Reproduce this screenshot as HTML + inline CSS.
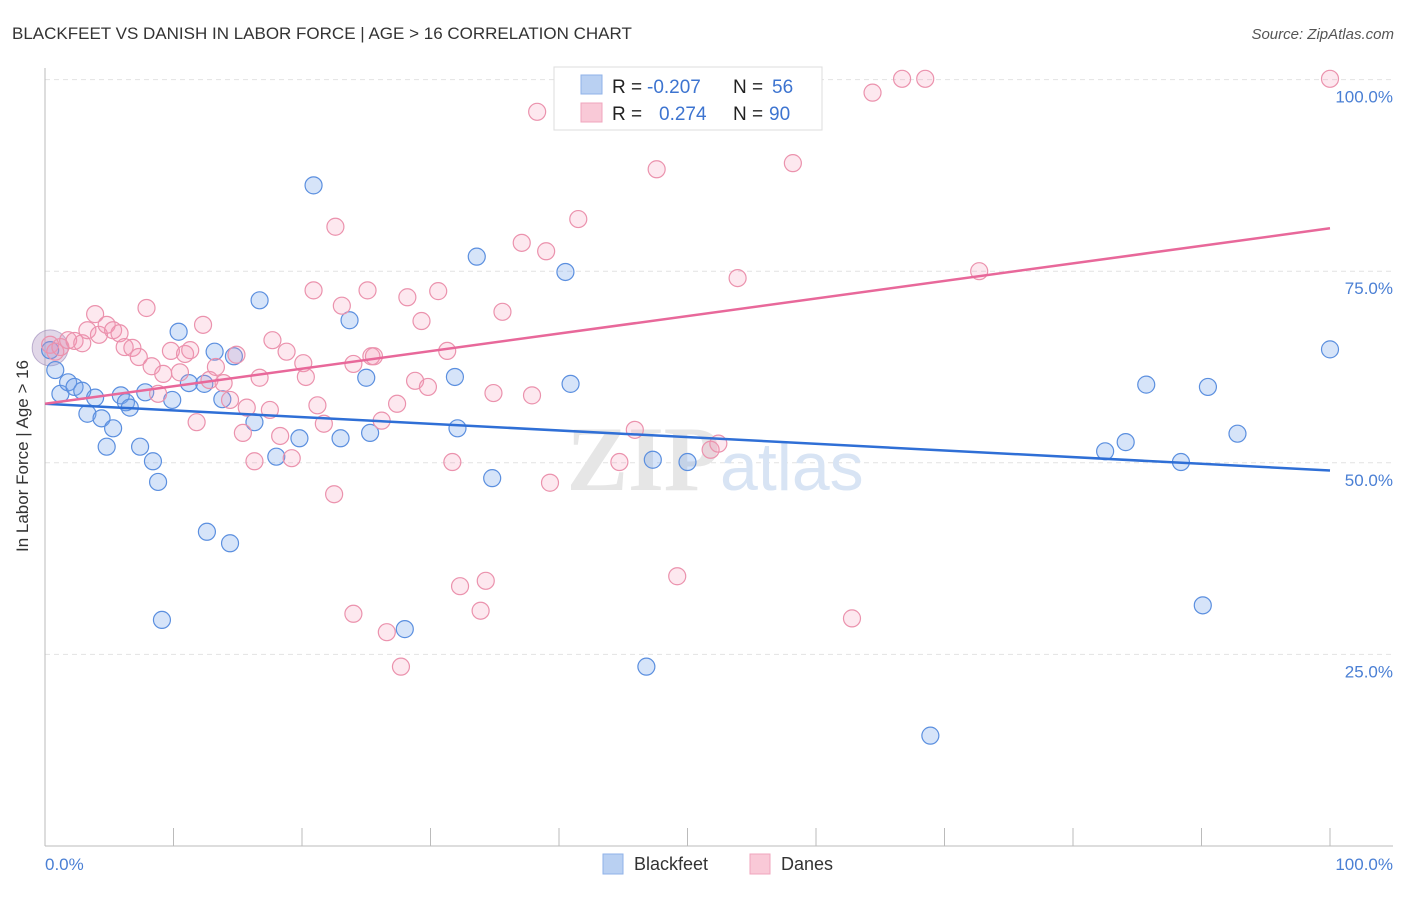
<!DOCTYPE html>
<html><head><meta charset="utf-8"><style>
body{margin:0;background:#fff;font-family:"Liberation Sans",sans-serif}
</style></head><body>
<svg width="1406" height="892" xmlns="http://www.w3.org/2000/svg" font-family="Liberation Sans, sans-serif">
<text x="12" y="39" font-size="17" fill="#333">BLACKFEET VS DANISH IN LABOR FORCE | AGE &gt; 16 CORRELATION CHART</text>
<text x="1394" y="39" font-size="15" fill="#555" text-anchor="end" font-style="italic">Source: ZipAtlas.com</text>
<g id="grid"></g>
<text x="720" y="490" font-size="92" fill="#e6e6e6" text-anchor="end" font-family="Liberation Serif, serif" font-weight="bold">ZIP</text>
<text x="720" y="490" font-size="68" fill="#d8e4f4">atlas</text>
<g id="pts"></g>
<g id="lines"></g>
<text x="28" y="456" font-size="17" fill="#333" text-anchor="middle" transform="rotate(-90 28 456)">In Labor Force | Age &gt; 16</text>
<text x="45" y="870" font-size="17" fill="#4a7fd4">0.0%</text>
<text x="1393" y="870" font-size="17" fill="#4a7fd4" text-anchor="end">100.0%</text>
<g>
<rect x="554" y="67" width="268" height="63" fill="#fff" stroke="#ddd"/>
<rect x="581" y="75" width="21" height="19" fill="#b9d0f2" stroke="#8fb2e8"/>
<rect x="581" y="103" width="21" height="19" fill="#f9c9d7" stroke="#f0a5bd"/>
<text x="612" y="93" font-size="19" fill="#222">R =</text>
<text x="647" y="93" font-size="19" fill="#3d74d0">-0.207</text>
<text x="733" y="93" font-size="19" fill="#222">N =</text>
<text x="772" y="93" font-size="19" fill="#3d74d0">56</text>
<text x="612" y="120" font-size="19" fill="#222">R =</text>
<text x="659" y="120" font-size="19" fill="#3d74d0">0.274</text>
<text x="733" y="120" font-size="19" fill="#222">N =</text>
<text x="769" y="120" font-size="19" fill="#3d74d0">90</text>
</g>
<g>
<rect x="603" y="854" width="20" height="20" fill="#b9d0f2" stroke="#8fb2e8"/>
<text x="634" y="870" font-size="18" fill="#333">Blackfeet</text>
<rect x="750" y="854" width="20" height="20" fill="#f9c9d7" stroke="#f0a5bd"/>
<text x="781" y="870" font-size="18" fill="#333">Danes</text>
</g>
</svg>
<script>
const blueX=[0.4,0.8,1.2,1.8,2.3,2.9,3.3,3.9,4.4,4.8,5.3,5.9,6.3,6.6,7.4,7.8,8.4,8.8,9.1,9.9,10.4,11.2,12.4,12.6,13.2,13.8,14.4,14.7,16.3,16.7,18.0,19.8,20.9,23.0,23.7,25.0,25.3,28.0,31.9,32.1,33.6,34.8,40.5,40.9,46.8,47.3,50.0,68.9,82.5,84.1,85.7,88.4,90.1,90.5,92.8,100];
const blueY=[64.7,62.1,59.0,60.5,59.9,59.4,56.4,58.5,55.8,52.1,54.5,58.8,57.9,57.2,52.1,59.2,50.2,47.5,29.5,58.2,67.1,60.4,60.3,41.0,64.5,58.3,39.5,63.9,55.3,71.2,50.8,53.2,86.2,53.2,68.6,61.1,53.9,28.3,61.2,54.5,76.9,48.0,74.9,60.3,23.4,50.4,50.1,14.4,51.5,52.7,60.2,50.1,31.4,59.9,53.8,64.8];
const pinkX=[0.4,0.8,1.2,1.8,2.3,2.9,3.3,3.9,4.2,4.8,5.3,5.8,6.2,6.8,7.3,7.9,8.3,8.8,9.2,9.8,10.5,10.9,11.3,11.8,12.3,12.8,13.3,13.9,14.4,14.9,15.4,15.7,16.3,16.7,17.5,17.7,18.3,18.8,19.2,20.1,20.3,20.9,21.2,21.7,22.5,22.6,23.1,24.0,24.0,25.1,25.4,25.6,26.2,26.6,27.4,27.7,28.2,28.8,29.3,29.8,30.6,31.3,31.7,32.3,33.9,34.3,34.9,35.6,37.1,37.9,38.3,39.0,39.3,41.5,44.7,45.9,47.6,49.2,51.8,52.4,53.9,58.2,62.8,64.4,66.7,68.5,72.7,100];
const pinkY=[65.4,64.5,65.1,66.0,65.9,65.6,67.3,69.4,66.7,68.0,67.3,66.9,65.1,65.0,63.8,70.2,62.6,59.0,61.6,64.6,61.8,64.2,64.7,55.3,68.0,60.8,62.5,60.4,58.2,64.1,53.9,57.2,50.2,61.1,56.9,66.0,53.5,64.5,50.6,63.0,61.2,72.5,57.5,55.1,45.9,80.8,70.5,62.9,30.3,72.5,63.9,63.9,55.5,27.9,57.7,23.4,71.6,60.7,68.5,59.9,72.4,64.6,50.1,33.9,30.7,34.6,59.1,69.7,78.7,58.8,95.8,77.6,47.4,81.8,50.1,54.3,88.3,35.2,51.7,52.5,74.1,89.1,29.7,98.3,100.1,100.1,75.0,100.1];
const blueLine=[57.7,49.0];
const pinkLine=[57.7,80.6];
const yTicks=[25,50,75,100];
const yTickLabels=["25.0%","50.0%","75.0%","100.0%"];
const xTicks=[0,10,20,30,40,50,60,70,80,90,100];
const NS="http://www.w3.org/2000/svg";
const X0=45,X1=1330,Y0=846,YS=7.664;
const sx=v=>X0+v*(X1-X0)/100, sy=v=>Y0-v*YS;
function mk(t,a,p){const e=document.createElementNS(NS,t);for(const k in a)e.setAttribute(k,a[k]);p.appendChild(e);return e;}
const grid=document.getElementById('grid');
yTicks.forEach((t,i)=>{
 const l=mk('line',{x1:X0,x2:1393,y1:sy(t),y2:sy(t),stroke:'#e2e2e2','stroke-dasharray':'5,4'},grid);
 
 
 const tx=mk('text',{x:1393,y:sy(t)+23,'font-size':17,fill:'#4a7fd4','text-anchor':'end'},grid);
 tx.textContent=yTickLabels[i];
 
 
});
let ax=mk('line',{x1:X0,x2:X0,y1:68,y2:Y0,stroke:'#bbb'},grid);


ax=mk('line',{x1:X0,x2:1393,y1:Y0,y2:Y0,stroke:'#bbb'},grid);


xTicks.forEach(t=>{const l=mk('line',{x1:sx(t),x2:sx(t),y1:Y0,y2:Y0-18,stroke:'#bbb'},grid);
 
 });
const pts=document.getElementById('pts');
let big=mk('circle',{cx:sx(0.4),cy:sy(65),r:18,fill:'rgba(170,140,190,0.35)',stroke:'rgba(150,130,180,0.6)'},pts);


blueX.forEach((x,i)=>{const c=mk('circle',{cx:sx(x),cy:sy(blueY[i]),r:8.5,fill:'rgba(120,165,235,0.3)',stroke:'#5b8fdf','stroke-width':1.2},pts);
 
 });
pinkX.forEach((x,i)=>{const c=mk('circle',{cx:sx(x),cy:sy(pinkY[i]),r:8.5,fill:'rgba(245,150,180,0.22)',stroke:'#eb92ad','stroke-width':1.2},pts);
 
 });
const lines=document.getElementById('lines');
let bl=mk('line',{x1:sx(0),y1:sy(blueLine[0]),x2:sx(100),y2:sy(blueLine[1]),stroke:'#2f6fd6','stroke-width':2.5},lines);


let pl=mk('line',{x1:sx(0),y1:sy(pinkLine[0]),x2:sx(100),y2:sy(pinkLine[1]),stroke:'#e8689a','stroke-width':2.5},lines);


</script>
</body></html>
